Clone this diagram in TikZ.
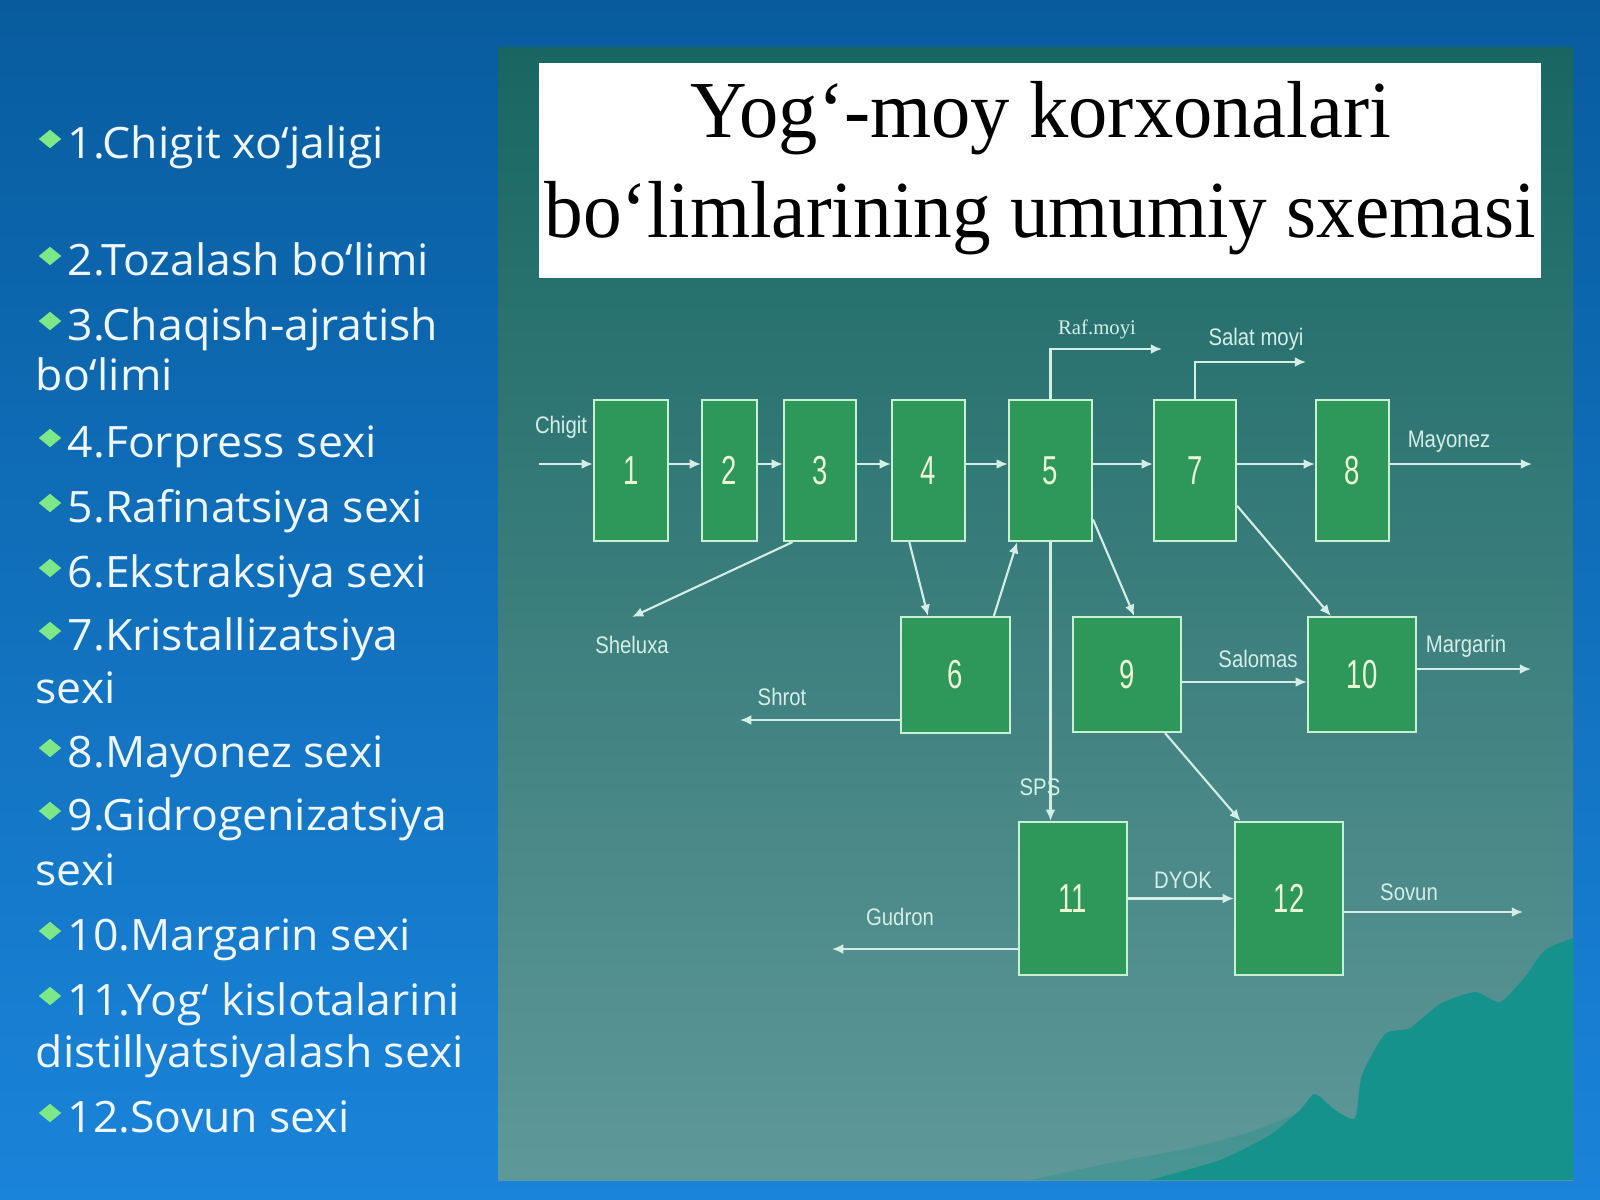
\documentclass[tikz,border=0pt]{standalone}
\usepackage{fontspec}
\usepackage{graphicx}
\usetikzlibrary{arrows.meta,shapes.geometric,positioning}
\setmainfont{Liberation Sans}
\newfontfamily\listfont{Open Sans}
\newfontfamily\titlefont{Liberation Serif}
\definecolor{bgtop}{RGB}{8,92,158}
\definecolor{bgbot}{RGB}{26,132,218}
\definecolor{pantop}{RGB}{24,102,98}
\definecolor{panbot}{RGB}{95,152,152}
\definecolor{hill}{RGB}{22,146,140}
\definecolor{boxfill}{RGB}{46,152,90}
\definecolor{boxline}{RGB}{200,240,210}
\definecolor{flowcol}{RGB}{212,238,230}
\definecolor{numtext}{RGB}{235,245,210}
\definecolor{listtext}{RGB}{238,246,252}
\definecolor{bullet}{RGB}{125,232,135}
\newcommand{\nrw}[2][0.85]{\scalebox{#1}[1]{#2}}

\begin{document}
\begin{tikzpicture}[x=0.01cm,y=-0.01cm,
        sexbox/.style={draw=boxline,fill=boxfill,line width=0.6pt,inner sep=0pt,minimum height=1.41cm,text=numtext,font=\fontsize{11.5}{12}\selectfont},
        flow/.style={draw=flowcol,line width=0.6pt,-{Latex[length=3.2pt,width=2.8pt]}},
        lbl/.style={text=flowcol,inner sep=0pt,font=\fontsize{6.8}{8}\selectfont},
        item/.style={anchor=base west,inner sep=0pt,text=listtext,font=\listfont\fontsize{12.3}{14}\selectfont},
        dot/.style={diamond,fill=bullet,inner sep=0pt,minimum width=0.23cm,minimum height=0.19cm}]

    \fill[top color=bgtop,bottom color=bgbot] (0,0) rectangle (1600,1200);
    \fill[top color=pantop,bottom color=panbot] (498,47) rectangle (1573,1180);
    \fill[hill,opacity=0.3] plot[smooth,tension=0.4] coordinates {(1030,1180) (1110,1163) (1190,1148) (1250,1132) (1300,1112)} -- (1300,1180) -- cycle;
    \fill[hill] plot[smooth,tension=0.4] coordinates {(1150,1180) (1220,1160) (1270,1135) (1300,1110) (1315,1094) (1335,1110) (1355,1118) (1362,1075) (1385,1034) (1410,1028) (1440,1004) (1475,992) (1500,1002) (1525,977) (1545,950) (1573,938)} -- (1573,1180) -- cycle;

    \node[fill=white,inner sep=0pt,minimum width=10.02cm,minimum height=2.15cm] (ttlbox) at (1040,170.5) {};
    \node[anchor=base,inner sep=0pt,font=\titlefont\fontsize{23}{26}\selectfont] (ttl1) at (1041,137) {\nrw[0.97]{Yog‘-moy korxonalari}};
    \node[anchor=base,inner sep=0pt,font=\titlefont\fontsize{23}{26}\selectfont] (ttl2) at (1040,237) {\nrw[0.955]{bo‘limlarining umumiy sxemasi}};

    \foreach \n/\y/\t in {1/158/1.Chigit xo‘jaligi, 2/275/2.Tozalash bo‘limi, 3/340/3.Chaqish-ajratish,
            4/457/4.Forpress sexi, 5/522/5.Rafinatsiya sexi, 6/587/6.Ekstraksiya sexi,
            7/650/7.Kristallizatsiya, 8/767/8.Mayonez sexi, 9/830/9.Gidrogenizatsiya,
            10/950/10.Margarin sexi, 11/1015/11.Yog‘ kislotalarini, 12/1132/12.Sovun sexi}{
        \node[dot] (d\n) at (50,\y-19) {};
        \node[item] (it\n) at (67,\y) {\nrw[1.03]{\t}};
    }
    \node[item] (it3b) at (35,390) {\nrw[1.03]{bo‘limi}};
    \node[item] (it7b) at (35,703) {\nrw[1.03]{sexi}};
    \node[item] (it9b) at (35,885) {\nrw[1.03]{sexi}};
    \node[item] (it11b) at (35,1067) {\nrw[1.03]{distillyatsiyalash sexi}};

    \node[sexbox,minimum width=0.74cm] (b1) at (631,470.5) {\nrw[0.68]{1}};
    \node[sexbox,minimum width=0.55cm] (b2) at (729.5,470.5) {\nrw[0.68]{2}};
    \node[sexbox,minimum width=0.72cm] (b3) at (820,470.5) {\nrw[0.68]{3}};
    \node[sexbox,minimum width=0.73cm] (b4) at (928.5,470.5) {\nrw[0.68]{4}};
    \node[sexbox,minimum width=0.83cm] (b5) at (1050.5,470.5) {\nrw[0.68]{5}};
    \node[sexbox,minimum width=0.82cm] (b7) at (1195,470.5) {\nrw[0.68]{7}};
    \node[sexbox,minimum width=0.73cm] (b8) at (1352.5,470.5) {\nrw[0.68]{8}};
    \node[sexbox,minimum width=1.09cm,minimum height=1.16cm] (b6) at (955.5,675) {\nrw[0.68]{6}};
    \node[sexbox,minimum width=1.08cm,minimum height=1.15cm] (b9) at (1127,674.5) {\nrw[0.68]{9}};
    \node[sexbox,minimum width=1.08cm,minimum height=1.15cm] (b10) at (1362,674.5) {\nrw[0.68]{10}};
    \node[sexbox,minimum width=1.08cm,minimum height=1.53cm] (b11) at (1073,898.5) {\nrw[0.68]{11}};
    \node[sexbox,minimum width=1.08cm,minimum height=1.53cm] (b12) at (1289,898.5) {\nrw[0.68]{12}};

    \coordinate (row) at (0,464);
    \coordinate (chin) at (539,464);
    \coordinate (mayo) at (1532,464);
    \coordinate (raf) at (1162,349);
    \coordinate (salat) at (1306,362);
    \coordinate (shel) at (632,617);
    \coordinate (shrot) at (740,720);
    \coordinate (salo) at (0,682);
    \coordinate (marg) at (1531,669);
    \coordinate (sov) at (1523,912);
    \coordinate (gud) at (832,949);

    \draw[flow] (chin) -- (b1.west |- chin);
    \draw[flow] (b1.east |- row) -- (b2.west |- row);
    \draw[flow] (b2.east |- row) -- (b3.west |- row);
    \draw[flow] (b3.east |- row) -- (b4.west |- row);
    \draw[flow] (b4.east |- row) -- (b5.west |- row);
    \draw[flow] (b5.east |- row) -- (b7.west |- row);
    \draw[flow] (b7.east |- row) -- (b8.west |- row);
    \draw[flow] (b8.east |- row) -- (mayo);
    \draw[flow] (b5.north) |- (raf);
    \draw[flow] (b7.north) |- (salat);
    \draw[flow] (b3.249) -- (shel);
    \draw[flow] (b4.255) -- (b6.115);
    \draw[flow] (b6.57) -- (b5.245);
    \draw[flow] (b5.311) -- (b9.83);
    \draw[flow] (b5.south) -- (b5.south |- b11.north);
    \draw[flow] (b7.320) -- (b10.118);
    \draw[flow] (b9.east |- salo) -- (b10.west |- salo);
    \draw[flow] (b10.east |- marg) -- (marg);
    \draw[flow] (b6.west |- shrot) -- (shrot);
    \draw[flow] (b9.303) -- (b12.122);
    \draw[flow] (b11) -- (b12);
    \draw[flow] (b12.east |- sov) -- (sov);
    \draw[flow] (b11.west |- gud) -- (gud);

    \node[lbl] (lchigit) at (561,427) {\nrw{Chigit}};
    \node[lbl] (lmayo) at (1449,442) {\nrw{Mayonez}};
    \node[lbl,font=\titlefont\fontsize{5.9}{7}\selectfont] (lraf) at (1097,329) {Raf.moyi};
    \node[lbl] (lsalat) at (1256,339) {\nrw{Salat moyi}};
    \node[lbl] (lshel) at (632,645) {\nrw{Sheluxa}};
    \node[lbl] (lshrot) at (782,697) {\nrw{Shrot}};
    \node[lbl] (lsps) at (1040,787) {\nrw{SPS}};
    \node[lbl] (lsalo) at (1258,659) {\nrw{Salomas}};
    \node[lbl] (lmarg) at (1466,646) {\nrw{Margarin}};
    \node[lbl] (ldyok) at (1183,880) {\nrw{DYOK}};
    \node[lbl] (lgud) at (900,917) {\nrw{Gudron}};
    \node[lbl] (lsov) at (1409,892) {\nrw{Sovun}};
\end{tikzpicture}
\end{document}
